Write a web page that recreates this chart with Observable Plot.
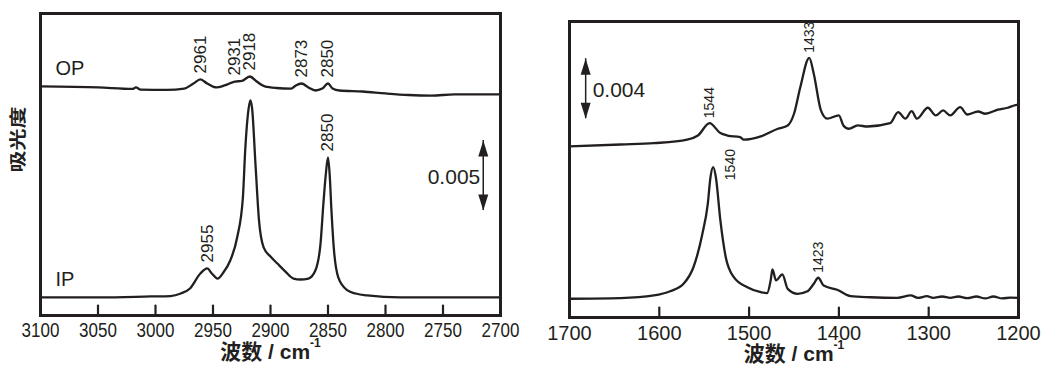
<!DOCTYPE html>
<html><head><meta charset="utf-8">
<script src="https://cdn.jsdelivr.net/npm/d3@7"></script>
<script src="https://cdn.jsdelivr.net/npm/@observablehq/plot@0.6"></script>
<style>
body{margin:0;background:#fff;}
#wrap{position:relative;width:1045px;height:367px;overflow:hidden;}
#left,#right{position:absolute;top:0;}
#left{left:0;} #right{left:520px;}
</style></head><body><div id="wrap"><div id="left"></div><div id="right"></div></div>
<script>
// Absorbance values are in units of 10^-3 (offset spectra as drawn)
// ---- C–H stretching region (left panel) ----
const chTicks = [3100, 3050, 3000, 2950, 2900, 2850, 2800, 2750, 2700];
const chWn_OP = [3100,3050,3020,3017,3013,2990,2975,2967,2961,2955,2947,2940,2931,2925,2918,2912,2905,2895,2882,2878,2873,2867,2861,2855,2850,2846,2840,2820,2800,2780,2760,2740,2720,2700];
const chAbs_OP = [16.36,16.29,16.18,16.29,16.14,16.11,16.21,16.57,16.86,16.57,16.29,16.43,16.71,16.75,17.07,16.71,16.36,16.25,16.21,16.43,16.57,16.29,16.07,16.21,16.57,16.21,16.07,16.0,15.86,15.75,15.71,15.79,15.79,15.79];
const chWn_IP = [3100,3048,3004,2987,2978,2970,2961,2955,2951,2946,2941,2935,2929,2924,2922,2919,2917.5,2916,2913,2910,2906,2900,2894,2887,2880,2874,2867,2861,2856.5,2854,2852,2850,2848.5,2847,2845,2841,2833,2826,2816,2787,2744,2700];
const chAbs_IP = [1.29,1.29,1.36,1.39,1.57,1.93,3.00,3.36,3.00,2.64,3.07,3.93,5.57,8.43,11.79,14.79,15.36,14.79,10.71,6.79,4.86,4.21,3.71,3.14,2.64,2.57,2.64,3.21,5.14,8.00,10.0,11.29,10.0,7.5,4.86,2.71,1.79,1.57,1.43,1.29,1.29,1.29];
const chPeaks_OP = [2961, 2931, 2918, 2873, 2850];
const chPeaks_IP = [2955, 2850];
const chBar = {wn: 2715, from: 7.5, span: 5};
const chYDomain = [0, 21.57];

// ---- fingerprint region (right panel) ----
const fpTicks = [1700, 1600, 1500, 1400, 1300, 1200];
const fpWn_OP = [1700,1643,1606,1569,1557,1544,1532,1524,1510,1506,1487,1468,1457,1450,1443,1433,1428,1420,1413,1400,1395,1389,1379,1368,1343,1334,1326,1319,1313,1301,1292,1284,1276,1265,1257,1245,1237,1223,1212,1205,1200];
const fpAbs_OP = [11.4,11.53,11.62,11.85,12.13,12.95,12.29,12.13,12.02,11.85,12.07,12.58,12.8,13.58,15.35,17.31,16.25,13.8,13.25,13.47,12.8,12.58,12.8,12.73,12.95,13.69,13.25,13.75,13.25,13.98,13.47,13.8,13.47,14.02,13.53,13.73,13.58,13.85,13.98,14.13,14.2];
const fpWn_IP = [1700,1643,1606,1588,1573,1562,1552,1546,1543,1540,1537,1532,1526,1517,1502,1487,1480,1476,1474,1470,1463,1457,1446,1435,1428,1423,1417,1402,1387,1365,1335,1320,1312,1302,1295,1285,1276,1267,1257,1247,1237,1228,1218,1209,1200];
const fpAbs_IP = [1.25,1.29,1.47,1.75,2.25,3.35,5.58,7.58,9.35,10.02,9.35,6.47,4.02,2.69,2.02,1.69,1.62,2.47,3.2,2.47,2.87,1.91,1.58,1.75,2.25,2.65,2.13,1.85,1.42,1.35,1.31,1.47,1.31,1.42,1.31,1.4,1.31,1.4,1.29,1.4,1.27,1.4,1.27,1.33,1.31];
const fpPeaks_OP = [1544, 1433];
const fpPeaks_IP = [1423];
const fpPeaks_IPside = [1540];
const fpBar = {wn: 1682, from: 13.25, span: 4};
const fpYDomain = [0, 19.73];

const xTitle = "波数 / cm";
const xTitleSup = "-1";
const yTitle = "吸光度";

// ---- helpers ----
const FONT = "'Liberation Sans', Arial, 'Noto Sans CJK SC', sans-serif";
const INK = "#231f20";
const TICK = 10;
const series = (wn, ab) => wn.map((w, i) => ({wn: w, a: ab[i]}));
const peaks = (list, wn, ab) => list.map(p => {
  const i = d3.minIndex(wn, w => Math.abs(w - p));
  return {wn: p, a: ab[i], label: String(p)};
});
const head = dir => ({draw(ctx) { const w = 5, l = 16 * dir; ctx.moveTo(0, 0); ctx.lineTo(w, l); ctx.lineTo(-w, l); ctx.closePath(); }});
// inward ticks: short vertical segments rising TICK px from the bottom of the frame
function innerTicks(ticks, yDomain, frameH) {
  const top = yDomain[0] + TICK * (yDomain[1] - yDomain[0]) / frameH;
  const pts = ticks.flatMap(t => [{t, v: yDomain[0]}, {t, v: top}]);
  return Plot.line(pts, {x: "t", y: "v", z: "t", stroke: INK, strokeWidth: 2.2, curve: "linear"});
}
function scaleBar(b, side) {
  const data = [{wn: b.wn, y1: b.from, y2: b.from + b.span, mid: b.from + b.span / 2}];
  return [
    Plot.ruleX(data, {x: "wn", y1: "y1", y2: "y2", stroke: INK, strokeWidth: 1.5}),
    Plot.dot(data, {x: "wn", y: "y2", symbol: head(1), fill: INK, stroke: "none"}),
    Plot.dot(data, {x: "wn", y: "y1", symbol: head(-1), fill: INK, stroke: "none"}),
    Plot.text(data, {x: "wn", y: "mid", text: () => (b.span / 1000).toFixed(3),
      textAnchor: side === "left" ? "end" : "start", dx: side === "left" ? -3 : 7, dy: 2,
      fontSize: 21, fill: INK})
  ];
}
function textsWith(svg, content) {
  return Array.from(svg.querySelectorAll("text")).filter(t => t.textContent === content);
}
function squeezeEl(t, sx, sy) {
  const tr = t.getAttribute("transform") || "";
  t.setAttribute("transform", tr + ` scale(${sx},${sy})`);
}
function addSup(svg) {
  textsWith(svg, xTitle).forEach(t => {
    const s = document.createElementNS("http://www.w3.org/2000/svg", "tspan");
    s.setAttribute("dy", "-12");
    s.setAttribute("font-size", "12");
    s.textContent = xTitleSup;
    t.appendChild(s);
  });
}
const lineOpts = {x: "wn", y: "a", curve: "monotone-x", stroke: INK, strokeWidth: 2.3};

// ---- left panel ----
const L = {width: 520, height: 367, marginLeft: 40, marginRight: 20, marginTop: 13, marginBottom: 52};
const chOP = series(chWn_OP, chAbs_OP), chIP = series(chWn_IP, chAbs_IP);
const left = Plot.plot({
  ...L,
  style: {fontFamily: FONT, color: INK, background: "transparent"},
  x: {domain: [3100, 2700], label: null},
  y: {domain: chYDomain, axis: null},
  marks: [
    Plot.line(chOP, lineOpts),
    Plot.line(chIP, lineOpts),
    Plot.text(peaks(chPeaks_OP, chWn_OP, chAbs_OP), {x: "wn", y: "a", text: "label", rotate: -90, textAnchor: "start", dy: -6, fontSize: 17, fill: INK}),
    Plot.text(peaks(chPeaks_IP, chWn_IP, chAbs_IP), {x: "wn", y: "a", text: "label", rotate: -90, textAnchor: "start", dy: -6, fontSize: 17, fill: INK}),
    Plot.text(chOP, Plot.selectFirst({x: "wn", y: "a", text: () => "OP", textAnchor: "start", dx: 15, dy: -18, fontSize: 20, fill: INK})),
    Plot.text(chIP, Plot.selectFirst({x: "wn", y: "a", text: () => "IP", textAnchor: "start", dx: 15, dy: -18, fontSize: 20, fill: INK})),
    ...scaleBar(chBar, "left"),
    Plot.axisX({ticks: chTicks, tickSize: 0, tickPadding: 7, fontSize: 21, label: null, tickFormat: d => String(d)}),
    Plot.text([xTitle], {frameAnchor: "bottom", dy: 43, fontSize: 21, fontWeight: "bold", fill: INK}),
    Plot.text([yTitle], {frameAnchor: "left", rotate: -90, dx: -22, dy: 8, fontSize: 22, fontWeight: "bold", fill: INK, fontFamily: "'Noto Sans CJK SC', sans-serif"}),
    Plot.frame({stroke: INK, strokeWidth: 3}),
    innerTicks(chTicks, chYDomain, L.height - L.marginTop - L.marginBottom)
  ]
});
left.querySelectorAll('g[aria-label="x-axis tick label"] text').forEach(t => squeezeEl(t, 0.81, 1));
textsWith(left, yTitle).forEach(t => squeezeEl(t, 1, 0.75));
addSup(left);
document.getElementById("left").appendChild(left);

// ---- right panel ----
const R = {width: 525, height: 367, marginLeft: 49, marginRight: 27, marginTop: 21, marginBottom: 50};
const fpOP = series(fpWn_OP, fpAbs_OP), fpIP = series(fpWn_IP, fpAbs_IP);
const right = Plot.plot({
  ...R,
  style: {fontFamily: FONT, color: INK, background: "transparent"},
  x: {domain: [1700, 1200], label: null},
  y: {domain: fpYDomain, axis: null},
  marks: [
    Plot.line(fpOP, lineOpts),
    Plot.line(fpIP, lineOpts),
    Plot.text(peaks(fpPeaks_OP, fpWn_OP, fpAbs_OP), {x: "wn", y: "a", text: "label", rotate: -90, textAnchor: "start", dy: -5, fontSize: 14, fill: INK}),
    Plot.text(peaks(fpPeaks_IP, fpWn_IP, fpAbs_IP), {x: "wn", y: "a", text: "label", rotate: -90, textAnchor: "start", dy: -5, fontSize: 14, fill: INK}),
    Plot.text(peaks(fpPeaks_IPside, fpWn_IP, fpAbs_IP), {x: "wn", y: "a", text: "label", rotate: -90, textAnchor: "start", dx: 17, dy: 13, fontSize: 14, fill: INK}),
    ...scaleBar(fpBar, "right"),
    Plot.axisX({ticks: fpTicks, tickSize: 0, tickPadding: 8, fontSize: 20, label: null, tickFormat: d => String(d)}),
    Plot.text([xTitle], {frameAnchor: "bottom", dy: 43, fontSize: 21, fontWeight: "bold", fill: INK}),
    Plot.frame({stroke: INK, strokeWidth: 3}),
    innerTicks(fpTicks, fpYDomain, R.height - R.marginTop - R.marginBottom)
  ]
});
addSup(right);
document.getElementById("right").appendChild(right);
</script></body></html>
